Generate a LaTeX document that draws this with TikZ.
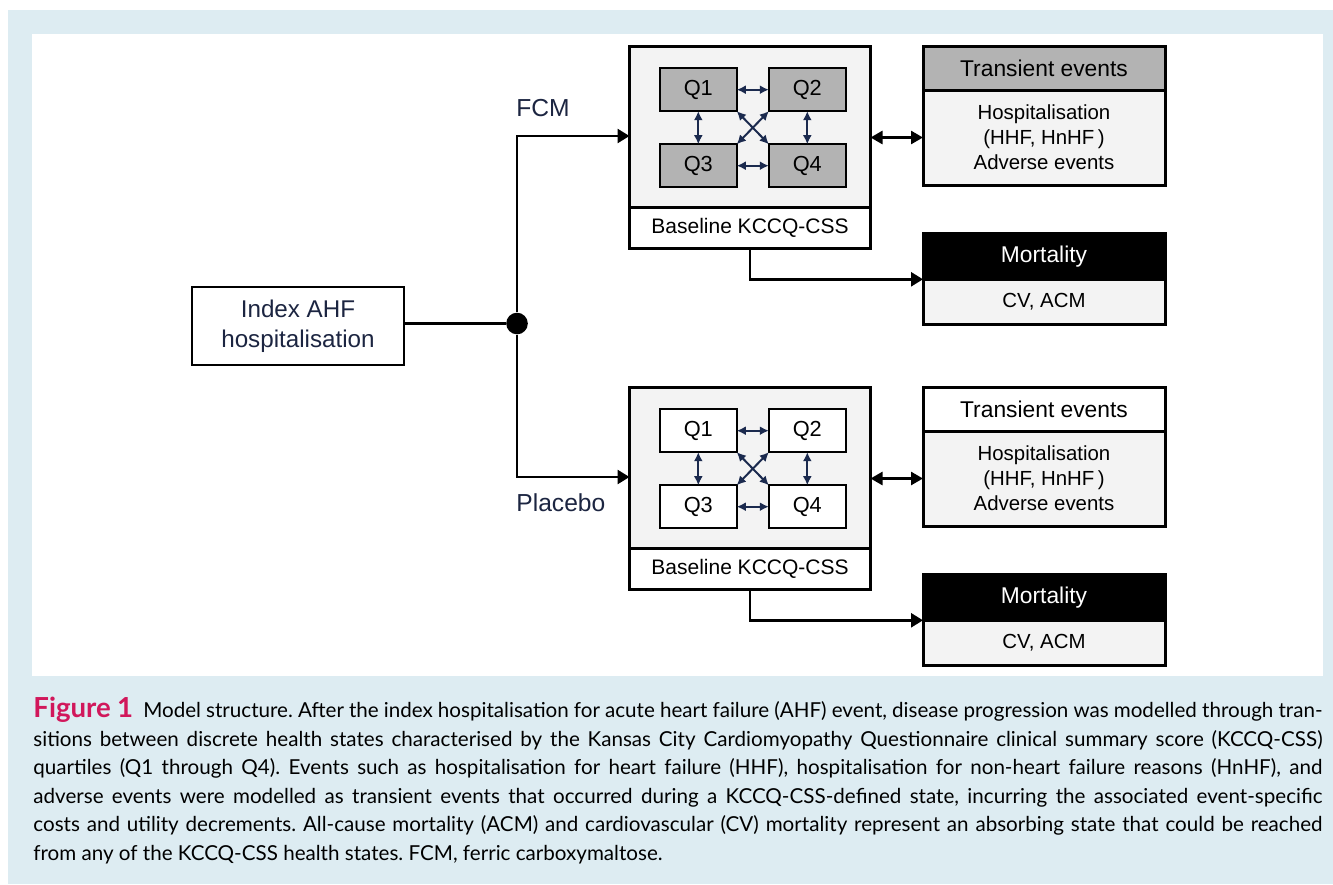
\documentclass[tikz,border=0pt]{standalone}
\usepackage{fontspec}
\setmainfont{Liberation Sans}
\newfontfamily\capfont{Lato}
\usepackage{tikz}
\usetikzlibrary{arrows.meta,positioning}
\definecolor{PanelBlue}{HTML}{DDECF2}
\definecolor{FigRed}{HTML}{D1175B}
\definecolor{LabelNavy}{HTML}{1C2541}
\definecolor{ArrowNavy}{HTML}{1B2A4E}
\definecolor{QGray}{HTML}{B3B3B3}
\definecolor{PaleGray}{HTML}{F3F3F3}
\tikzset{%
  IndexStyle/.style={draw,line width=1.3pt,minimum width=106pt,minimum height=39pt,align=center,text=LabelNavy,font=\fontsize{12.1}{15}\selectfont},
  LabelStyle/.style={inner sep=0pt,text=LabelNavy,font=\fontsize{12.3}{15}\selectfont},
  OuterStyle/.style={draw,line width=1.5pt,outer sep=0pt,minimum width=120.5pt,minimum height=80.5pt,fill=PaleGray},
  BaseStyle/.style={draw,line width=1.5pt,outer sep=0pt,minimum width=120.5pt,minimum height=20.5pt,fill=white,font=\fontsize{10.5}{12}\selectfont},
  QStyle/.style={draw,line width=1pt,outer sep=0pt,minimum width=38.5pt,minimum height=21.5pt,font=\fontsize{10.9}{12}\selectfont},
  HeadStyle/.style={draw,line width=1.5pt,outer sep=0pt,minimum width=121pt,minimum height=22pt,font=\fontsize{11.4}{12}\selectfont},
  BodyStyle/.style={draw,line width=1.5pt,outer sep=0pt,minimum width=121pt,fill=PaleGray,align=center,font=\fontsize{10.2}{12.5}\selectfont},
  QArrow/.style={ArrowNavy,line width=1pt,{Latex[length=4.5pt,width=4.5pt]}-{Latex[length=4.5pt,width=4.5pt]}},
  MainArrow/.style={line width=1.3pt,-{Triangle[length=6pt,width=7pt]}},
  BothArrow/.style={line width=1.3pt,{Triangle[length=6pt,width=6.5pt]}-{Triangle[length=6pt,width=6.5pt]}}
}

\begin{document}
\begin{tikzpicture}[x=0.5pt,y=-0.5pt]
  \useasboundingbox (0,0) rectangle (1333,884);
  \fill[PanelBlue] (8,10) rectangle (1333,884);
  \fill[white] (32,34) rectangle (1323,676);

  \node[IndexStyle] (index) at (298,326) {Index AHF\\hospitalisation};
  \node[circle,fill,inner sep=0pt,minimum size=10.8pt] (dot) at (517,323.5) {};
  \draw[line width=1.3pt] (index.east |- dot) -- (dot);

  \foreach \arm/\dy/\qcol/\hcol in {fcm/0/QGray/QGray,pla/341/white/white}{
    \node[OuterStyle] (\arm-box) at (750,{127.2+\dy}) {};
    \node[BaseStyle,below=0pt of \arm-box] (\arm-base) {Baseline KCCQ-CSS};
    \node[QStyle,fill=\qcol] (\arm-q1) at (698.3,{89.7+\dy}) {Q1};
    \node[QStyle,fill=\qcol,right=16pt of \arm-q1] (\arm-q2) {Q2};
    \node[QStyle,fill=\qcol,below=16.5pt of \arm-q1] (\arm-q3) {Q3};
    \node[QStyle,fill=\qcol,right=16pt of \arm-q3] (\arm-q4) {Q4};
    \draw[QArrow] (\arm-q1) -- (\arm-q2);
    \draw[QArrow] (\arm-q3) -- (\arm-q4);
    \draw[QArrow] (\arm-q1) -- (\arm-q3);
    \draw[QArrow] (\arm-q2) -- (\arm-q4);
    \draw[QArrow] (\arm-q1.south east) -- (\arm-q4.north west);
    \draw[QArrow] (\arm-q2.south west) -- (\arm-q3.north east);

    \node[HeadStyle,fill=\hcol] (\arm-th) at (1044,{68+\dy}) {Transient events};
    \node[BodyStyle,minimum height=47.5pt,below=0pt of \arm-th] (\arm-tb)
      {Hospitalisation\\(HHF, HnHF\,)\\Adverse events};
    \node[HeadStyle,minimum height=23pt,fill=black,text=white] (\arm-mh) at (1044,{256.3+\dy}) {Mortality};
    \node[BodyStyle,minimum height=22.5pt,below=0pt of \arm-mh] (\arm-mb) {CV, ACM};

    \draw[BothArrow] (\arm-tb.west -| \arm-box.east) -- (\arm-tb.west);
    \draw[MainArrow] (\arm-base.south) |- (\arm-mh.south west);
    \draw[MainArrow] (dot) |- ([yshift=-4.4pt]\arm-box.west);
  }
  \node[LabelStyle,anchor=base west] (fcmlabel) at (516,116) {FCM};
  \node[LabelStyle,anchor=base west] (plalabel) at (516,511.7) {Placebo};

  \node[anchor=north west,inner sep=0pt,text width=644.5pt,align=justify,
    font=\capfont\fontsize{10.3}{14.25}\selectfont] (caption) at (33,697)
  {\hyphenpenalty=10000\tolerance=9999\frenchspacing
   \textcolor{FigRed}{\fontsize{13.8}{14.25}\selectfont\bfseries Figure~1}\hspace{5pt}Model structure. After the index hospitalisation for acute heart failure (AHF) event, disease progression was modelled through tran-\linebreak
   sitions between discrete health states characterised by the Kansas City Cardiomyopathy Questionnaire clinical summary score (KCCQ-CSS)\linebreak
   quartiles (Q1 through Q4). Events such as hospitalisation for heart failure (HHF), hospitalisation for non-heart failure reasons (HnHF), and\linebreak
   adverse events were modelled as transient events that occurred during a KCCQ-CSS-defined state, incurring the associated event-specific\linebreak
   costs and utility decrements. All-cause mortality (ACM) and cardiovascular (CV) mortality represent an absorbing state that could be reached\linebreak
   from any of the KCCQ-CSS health states. FCM, ferric carboxymaltose.\par};
\end{tikzpicture}
\end{document}
